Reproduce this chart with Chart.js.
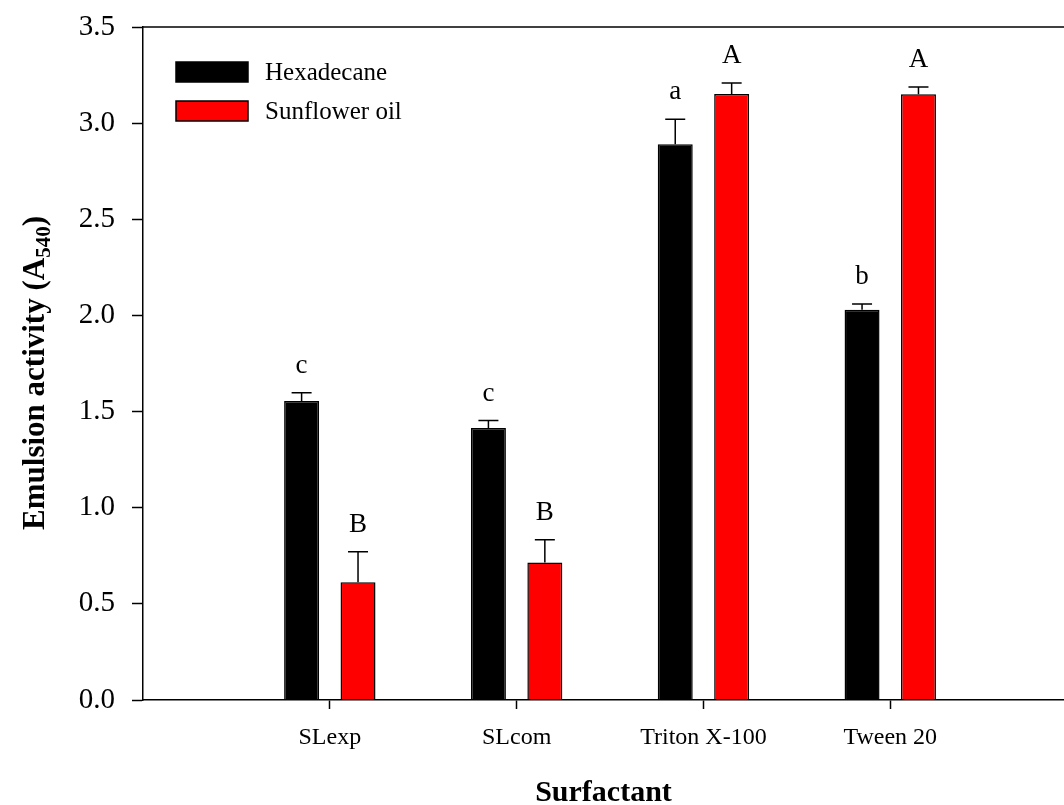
<!DOCTYPE html>
<html>
<head>
<meta charset="utf-8">
<script src="https://cdn.jsdelivr.net/npm/chart.js@4.4.0/dist/chart.umd.min.js"></script>
<style>
  html, body { margin: 0; padding: 0; background: #fff; overflow: hidden; }
  #wrap { width: 1064px; height: 805px; position: relative; }
</style>
</head>
<body>
<div id="wrap"><canvas id="chart"></canvas></div>
<script>
// données
const surfactants = ["SLexp", "SLcom", "Triton X-100", "Tween 20"];
const positions = [1, 2, 3, 4];
const hexadecane = [1.555, 1.414, 2.89, 2.03];
const hexadecaneErr = [0.043, 0.039, 0.13, 0.03];
const hexadecaneLetters = ["c", "c", "a", "b"];
const sunflower = [0.613, 0.715, 3.152, 3.15];
const sunflowerErr = [0.158, 0.118, 0.057, 0.038];
const sunflowerLetters = ["B", "B", "A", "A"];
const yTicks = [0, 0.5, 1, 1.5, 2, 2.5, 3, 3.5];

const SERIF = "'Liberation Serif', 'Times New Roman', serif";

// barres d'erreur + lettres
const errorBars = {
  id: "errorBars",
  afterDatasetsDraw(chart) {
    const ctx = chart.ctx;
    const yScale = chart.scales.y;
    ctx.save();
    chart.data.datasets.forEach((ds, di) => {
      const meta = chart.getDatasetMeta(di);
      meta.data.forEach((bar, i) => {
        const yErr = yScale.getPixelForValue(ds.data[i].y + ds.errors[i]);
        ctx.strokeStyle = "#000";
        ctx.lineWidth = 1.5;
        ctx.beginPath();
        ctx.moveTo(bar.x, bar.y);
        ctx.lineTo(bar.x, yErr);
        ctx.moveTo(bar.x - 10, yErr);
        ctx.lineTo(bar.x + 10, yErr);
        ctx.stroke();
        ctx.fillStyle = "#000";
        ctx.font = "27px " + SERIF;
        ctx.textAlign = "center";
        ctx.textBaseline = "alphabetic";
        ctx.fillText(ds.letters[i], bar.x, yErr - 20);
      });
    });
    ctx.restore();
  }
};

// cadre du haut, légende et titre de l'axe Y
const decorations = {
  id: "decorations",
  afterDraw(chart) {
    const ctx = chart.ctx;
    const area = chart.chartArea;
    ctx.save();
    ctx.strokeStyle = "#000";
    ctx.lineWidth = 1.5;
    ctx.beginPath();
    ctx.moveTo(area.left, area.top);
    ctx.lineTo(area.right, area.top);
    ctx.stroke();

    // légende
    chart.data.datasets.forEach((ds, i) => {
      const y = 62 + i * 39;
      ctx.fillStyle = ds.backgroundColor;
      ctx.fillRect(176, y, 72, 20);
      ctx.strokeStyle = "#000";
      ctx.lineWidth = 1.5;
      ctx.strokeRect(176, y, 72, 20);
      ctx.fillStyle = "#000";
      ctx.font = "25px " + SERIF;
      ctx.textAlign = "left";
      ctx.textBaseline = "middle";
      ctx.fillText(ds.label, 265, y + 11);
    });

    // titre Y avec indice
    const main = "Emulsion activity (A";
    const sub = "540";
    const end = ")";
    ctx.font = "bold 31px " + SERIF;
    const wMain = ctx.measureText(main).width;
    const wEnd = ctx.measureText(end).width;
    ctx.font = "bold 21px " + SERIF;
    const wSub = ctx.measureText(sub).width;
    const total = wMain + wSub + wEnd;
    ctx.translate(44, 373);
    ctx.rotate(-Math.PI / 2);
    ctx.fillStyle = "#000";
    ctx.textAlign = "left";
    ctx.textBaseline = "alphabetic";
    let x = -total / 2;
    ctx.font = "bold 31px " + SERIF;
    ctx.fillText(main, x, 0);
    x += wMain;
    ctx.font = "bold 21px " + SERIF;
    ctx.fillText(sub, x, 6);
    x += wSub;
    ctx.font = "bold 31px " + SERIF;
    ctx.fillText(end, x, 0);
    ctx.restore();
  }
};

const ctx = document.getElementById("chart").getContext("2d");

new Chart(ctx, {
  type: "bar",
  data: {
    datasets: [
      {
        label: "Hexadecane",
        data: positions.map((x, i) => ({ x: x, y: hexadecane[i] })),
        errors: hexadecaneErr,
        letters: hexadecaneLetters,
        backgroundColor: "#000000",
        borderColor: "#000000",
        borderWidth: 1.5
      },
      {
        label: "Sunflower oil",
        data: positions.map((x, i) => ({ x: x, y: sunflower[i] })),
        errors: sunflowerErr,
        letters: sunflowerLetters,
        backgroundColor: "#ff0000",
        borderColor: "#000000",
        borderWidth: 1.5
      }
    ]
  },
  options: {
    responsive: true,
    maintainAspectRatio: false,
    animation: false,
    categoryPercentage: 0.604,
    barPercentage: 0.62,
    layout: { padding: { top: 27, left: 0, right: 0, bottom: 0 } },
    plugins: {
      legend: { display: false },
      tooltip: { enabled: false }
    },
    scales: {
      x: {
        type: "linear",
        min: 0,
        max: 4.93,
        offset: false,
        afterBuildTicks: (scale) => {
          scale.ticks = positions.map(v => ({ value: v }));
        },
        afterFit: (scale) => {
          scale.height = 105;
          scale.paddingLeft = 0;
          scale.paddingRight = 0;
        },
        ticks: {
          color: "#000",
          font: { size: 24, family: SERIF },
          padding: 14,
          maxRotation: 0,
          autoSkip: false,
          callback: (v) => surfactants[positions.indexOf(v)]
        },
        grid: {
          offset: false,
          drawOnChartArea: false,
          drawTicks: true,
          tickLength: 9,
          tickColor: "#000",
          tickWidth: 1.5
        },
        border: { color: "#000", width: 1.5 },
        title: {
          display: true,
          text: "Surfactant",
          color: "#000",
          font: { size: 30, family: SERIF, weight: "bold" },
          padding: { top: 0, bottom: -6 }
        }
      },
      y: {
        min: 0,
        max: 3.5,
        afterBuildTicks: (scale) => {
          scale.ticks = yTicks.map(v => ({ value: v }));
        },
        afterFit: (scale) => {
          scale.width = 143;
          scale.paddingTop = 0;
          scale.paddingBottom = 0;
        },
        ticks: {
          color: "#000",
          font: { size: 29, family: SERIF },
          padding: 17,
          callback: (v) => v.toFixed(1)
        },
        grid: {
          drawOnChartArea: false,
          drawTicks: true,
          tickLength: 11,
          tickColor: "#000",
          tickWidth: 1.5
        },
        border: { color: "#000", width: 1.5 }
      }
    }
  },
  plugins: [errorBars, decorations]
});
</script>
</body>
</html>
